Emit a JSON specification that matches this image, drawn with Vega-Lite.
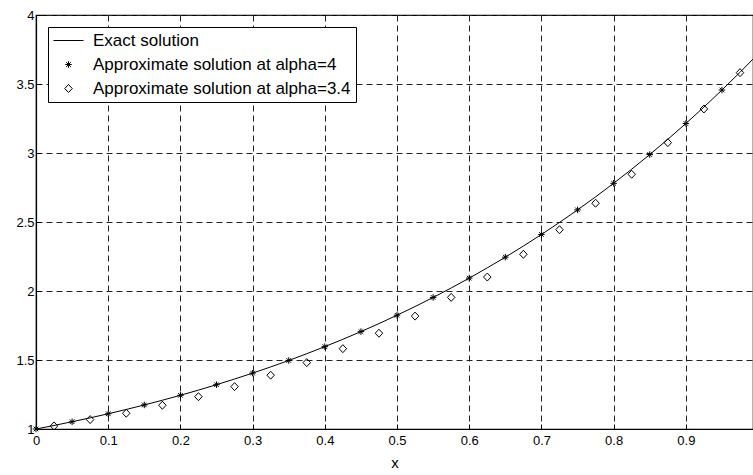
{
  "$schema": "https://vega.github.io/schema/vega-lite/v6.json",
  "width": 717,
  "height": 414,
  "autosize": {"type": "none"},
  "padding": {"left": 36, "top": 15, "right": 0, "bottom": 46},
  "background": "white",
  "config": {
    "font": "Liberation Sans",
    "view": {"stroke": "black", "strokeWidth": 1.2},
    "axis": {
      "domainColor": "black",
      "domainWidth": 1.2,
      "labelColor": "black",
      "labelFont": "Liberation Sans",
      "labelFontSize": 13,
      "titleFont": "Liberation Sans",
      "titleFontWeight": "normal",
      "titleColor": "black",
      "gridColor": "#222",
      "gridDash": [6, 4],
      "gridWidth": 1,
      "gridOpacity": 1,
      "tickColor": "black",
      "tickSize": -5
    }
  },
  "data": {
    "values": [
      {"x": 0, "y": 1.0, "series": "Exact solution"},
      {"x": 0.025, "y": 1.0256, "series": "Exact solution"},
      {"x": 0.05, "y": 1.0526, "series": "Exact solution"},
      {"x": 0.075, "y": 1.0808, "series": "Exact solution"},
      {"x": 0.1, "y": 1.1105, "series": "Exact solution"},
      {"x": 0.125, "y": 1.1416, "series": "Exact solution"},
      {"x": 0.15, "y": 1.1743, "series": "Exact solution"},
      {"x": 0.175, "y": 1.2085, "series": "Exact solution"},
      {"x": 0.2, "y": 1.2443, "series": "Exact solution"},
      {"x": 0.225, "y": 1.2818, "series": "Exact solution"},
      {"x": 0.25, "y": 1.321, "series": "Exact solution"},
      {"x": 0.275, "y": 1.362, "series": "Exact solution"},
      {"x": 0.3, "y": 1.405, "series": "Exact solution"},
      {"x": 0.325, "y": 1.4498, "series": "Exact solution"},
      {"x": 0.35, "y": 1.4967, "series": "Exact solution"},
      {"x": 0.375, "y": 1.5456, "series": "Exact solution"},
      {"x": 0.4, "y": 1.5967, "series": "Exact solution"},
      {"x": 0.425, "y": 1.6501, "series": "Exact solution"},
      {"x": 0.45, "y": 1.7057, "series": "Exact solution"},
      {"x": 0.475, "y": 1.7638, "series": "Exact solution"},
      {"x": 0.5, "y": 1.8244, "series": "Exact solution"},
      {"x": 0.525, "y": 1.8875, "series": "Exact solution"},
      {"x": 0.55, "y": 1.9533, "series": "Exact solution"},
      {"x": 0.575, "y": 2.0218, "series": "Exact solution"},
      {"x": 0.6, "y": 2.0933, "series": "Exact solution"},
      {"x": 0.625, "y": 2.1677, "series": "Exact solution"},
      {"x": 0.65, "y": 2.2451, "series": "Exact solution"},
      {"x": 0.675, "y": 2.3257, "series": "Exact solution"},
      {"x": 0.7, "y": 2.4096, "series": "Exact solution"},
      {"x": 0.725, "y": 2.4969, "series": "Exact solution"},
      {"x": 0.75, "y": 2.5878, "series": "Exact solution"},
      {"x": 0.775, "y": 2.6822, "series": "Exact solution"},
      {"x": 0.8, "y": 2.7804, "series": "Exact solution"},
      {"x": 0.825, "y": 2.8826, "series": "Exact solution"},
      {"x": 0.85, "y": 2.9887, "series": "Exact solution"},
      {"x": 0.875, "y": 3.099, "series": "Exact solution"},
      {"x": 0.9, "y": 3.2136, "series": "Exact solution"},
      {"x": 0.925, "y": 3.3327, "series": "Exact solution"},
      {"x": 0.95, "y": 3.4564, "series": "Exact solution"},
      {"x": 0.975, "y": 3.5849, "series": "Exact solution"},
      {"x": 0.993, "y": 3.6804, "series": "Exact solution"},
      {"x": 0, "y": 1.0, "series": "Approximate solution at alpha=4"},
      {"x": 0.05, "y": 1.0526, "series": "Approximate solution at alpha=4"},
      {"x": 0.1, "y": 1.1105, "series": "Approximate solution at alpha=4"},
      {"x": 0.15, "y": 1.1743, "series": "Approximate solution at alpha=4"},
      {"x": 0.2, "y": 1.2443, "series": "Approximate solution at alpha=4"},
      {"x": 0.25, "y": 1.321, "series": "Approximate solution at alpha=4"},
      {"x": 0.3, "y": 1.405, "series": "Approximate solution at alpha=4"},
      {"x": 0.35, "y": 1.4967, "series": "Approximate solution at alpha=4"},
      {"x": 0.4, "y": 1.5967, "series": "Approximate solution at alpha=4"},
      {"x": 0.45, "y": 1.7057, "series": "Approximate solution at alpha=4"},
      {"x": 0.5, "y": 1.8244, "series": "Approximate solution at alpha=4"},
      {"x": 0.55, "y": 1.9533, "series": "Approximate solution at alpha=4"},
      {"x": 0.6, "y": 2.0933, "series": "Approximate solution at alpha=4"},
      {"x": 0.65, "y": 2.2451, "series": "Approximate solution at alpha=4"},
      {"x": 0.7, "y": 2.4096, "series": "Approximate solution at alpha=4"},
      {"x": 0.75, "y": 2.5878, "series": "Approximate solution at alpha=4"},
      {"x": 0.8, "y": 2.7804, "series": "Approximate solution at alpha=4"},
      {"x": 0.85, "y": 2.9887, "series": "Approximate solution at alpha=4"},
      {"x": 0.9, "y": 3.2136, "series": "Approximate solution at alpha=4"},
      {"x": 0.95, "y": 3.4564, "series": "Approximate solution at alpha=4"},
      {"x": 0.025, "y": 1.022, "series": "Approximate solution at alpha=3.4"},
      {"x": 0.075, "y": 1.068, "series": "Approximate solution at alpha=3.4"},
      {"x": 0.125, "y": 1.114, "series": "Approximate solution at alpha=3.4"},
      {"x": 0.175, "y": 1.172, "series": "Approximate solution at alpha=3.4"},
      {"x": 0.225, "y": 1.234, "series": "Approximate solution at alpha=3.4"},
      {"x": 0.275, "y": 1.307, "series": "Approximate solution at alpha=3.4"},
      {"x": 0.325, "y": 1.39, "series": "Approximate solution at alpha=3.4"},
      {"x": 0.375, "y": 1.481, "series": "Approximate solution at alpha=3.4"},
      {"x": 0.425, "y": 1.582, "series": "Approximate solution at alpha=3.4"},
      {"x": 0.475, "y": 1.694, "series": "Approximate solution at alpha=3.4"},
      {"x": 0.525, "y": 1.818, "series": "Approximate solution at alpha=3.4"},
      {"x": 0.575, "y": 1.954, "series": "Approximate solution at alpha=3.4"},
      {"x": 0.625, "y": 2.101, "series": "Approximate solution at alpha=3.4"},
      {"x": 0.675, "y": 2.266, "series": "Approximate solution at alpha=3.4"},
      {"x": 0.725, "y": 2.444, "series": "Approximate solution at alpha=3.4"},
      {"x": 0.775, "y": 2.636, "series": "Approximate solution at alpha=3.4"},
      {"x": 0.825, "y": 2.846, "series": "Approximate solution at alpha=3.4"},
      {"x": 0.875, "y": 3.075, "series": "Approximate solution at alpha=3.4"},
      {"x": 0.925, "y": 3.319, "series": "Approximate solution at alpha=3.4"},
      {"x": 0.975, "y": 3.582, "series": "Approximate solution at alpha=3.4"}
    ]
  },
  "encoding": {
    "x": {
      "field": "x",
      "type": "quantitative",
      "scale": {"domain": [0, 0.993], "nice": false, "zero": false},
      "axis": {
        "title": "x",
        "titleFontSize": 15,
        "titlePadding": 8,
        "values": [0, 0.1, 0.2, 0.3, 0.4, 0.5, 0.6, 0.7, 0.8, 0.9],
        "format": "~g",
        "labelPadding": 10,
        "labelFlush": false
      }
    },
    "y": {
      "field": "y",
      "type": "quantitative",
      "scale": {"domain": [1, 4], "nice": false, "zero": false},
      "axis": {
        "title": null,
        "values": [1, 1.5, 2, 2.5, 3, 3.5, 4],
        "format": "~g",
        "labelPadding": 7,
        "labelFlush": false
      }
    }
  },
  "layer": [
    {
      "transform": [{"filter": "datum.series === 'Exact solution'"}],
      "mark": {"type": "line", "color": "black", "strokeWidth": 1, "clip": true},
      "encoding": {}
    },
    {
      "transform": [{"filter": "datum.series !== 'Exact solution'"}],
      "mark": {"type": "point", "filled": false, "stroke": "black", "strokeWidth": 1, "size": 100, "opacity": 1},
      "encoding": {
        "shape": {
          "field": "series",
          "type": "nominal",
          "scale": {
            "domain": ["Exact solution", "Approximate solution at alpha=4", "Approximate solution at alpha=3.4"],
            "range": ["M-3,0L3,0", "M-0.65,0L0.65,0M0,-0.65L0,0.65M-0.46,-0.46L0.46,0.46M-0.46,0.46L0.46,-0.46", "M0,-0.8L0.75,0L0,0.8L-0.75,0Z"]
          },
          "legend": {
            "title": null,
            "orient": "none",
            "legendX": 12,
            "legendY": 12,
            "strokeColor": "black",
            "fillColor": "white",
            "padding": 5,
            "symbolSize": 100,
            "symbolStrokeColor": "black",
            "symbolFillColor": "transparent",
            "symbolStrokeWidth": 1,
            "symbolOffset": 7,
            "labelOffset": 16,
            "labelFont": "Liberation Sans",
            "labelFontSize": 17,
            "labelColor": "black",
            "labelLimit": 400,
            "rowPadding": 6
          }
        }
      }
    }
  ]
}
